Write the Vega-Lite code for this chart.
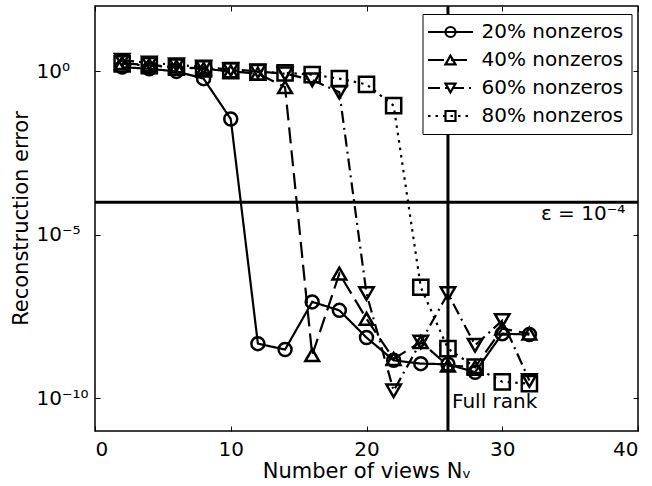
{
  "$schema": "https://vega.github.io/schema/vega-lite/v6.json",
  "autosize": {"type": "none"},
  "padding": {"left": 95, "top": 6, "right": 14, "bottom": 55},
  "width": 543,
  "height": 425,
  "config": {
    "font": "DejaVu Sans",
    "view": {"stroke": "black", "strokeWidth": 1.5},
    "axis": {"labelFont": "DejaVu Sans", "titleFont": "DejaVu Sans", "labelColor": "black", "titleColor": "black", "labelFontSize": 20, "titleFontSize": 21, "titleFontWeight": "normal", "grid": false, "domain": false, "tickColor": "black", "tickWidth": 1},
    "legend": {"labelFont": "DejaVu Sans", "labelFontSize": 20, "labelColor": "black"}
  },
  "datasets": {
    "errors": [
      {"views": 2, "series": "20% nonzeros", "err": 1.35},
      {"views": 4, "series": "20% nonzeros", "err": 1.2},
      {"views": 6, "series": "20% nonzeros", "err": 1.0},
      {"views": 8, "series": "20% nonzeros", "err": 0.6},
      {"views": 10, "series": "20% nonzeros", "err": 0.035},
      {"views": 12, "series": "20% nonzeros", "err": 4.7e-9},
      {"views": 14, "series": "20% nonzeros", "err": 3.1e-9},
      {"views": 16, "series": "20% nonzeros", "err": 8.9e-8},
      {"views": 18, "series": "20% nonzeros", "err": 4.9e-8},
      {"views": 20, "series": "20% nonzeros", "err": 7.2e-9},
      {"views": 22, "series": "20% nonzeros", "err": 1.45e-9},
      {"views": 24, "series": "20% nonzeros", "err": 1.15e-9},
      {"views": 26, "series": "20% nonzeros", "err": 1.1e-9},
      {"views": 28, "series": "20% nonzeros", "err": 6.3e-10},
      {"views": 30, "series": "20% nonzeros", "err": 9.5e-9},
      {"views": 32, "series": "20% nonzeros", "err": 8.9e-9},
      {"views": 2, "series": "40% nonzeros", "err": 1.8},
      {"views": 4, "series": "40% nonzeros", "err": 1.55},
      {"views": 6, "series": "40% nonzeros", "err": 1.4},
      {"views": 8, "series": "40% nonzeros", "err": 1.2},
      {"views": 10, "series": "40% nonzeros", "err": 1.0},
      {"views": 12, "series": "40% nonzeros", "err": 0.85},
      {"views": 14, "series": "40% nonzeros", "err": 0.33},
      {"views": 16, "series": "40% nonzeros", "err": 2.1e-9},
      {"views": 18, "series": "40% nonzeros", "err": 6.5e-7},
      {"views": 20, "series": "40% nonzeros", "err": 2.7e-8},
      {"views": 22, "series": "40% nonzeros", "err": 1.6e-9},
      {"views": 24, "series": "40% nonzeros", "err": 5.3e-9},
      {"views": 26, "series": "40% nonzeros", "err": 1.0e-9},
      {"views": 28, "series": "40% nonzeros", "err": 9e-10},
      {"views": 30, "series": "40% nonzeros", "err": 1.35e-8},
      {"views": 32, "series": "40% nonzeros", "err": 9.5e-9},
      {"views": 2, "series": "60% nonzeros", "err": 2.2},
      {"views": 4, "series": "60% nonzeros", "err": 1.8},
      {"views": 6, "series": "60% nonzeros", "err": 1.6},
      {"views": 8, "series": "60% nonzeros", "err": 1.35},
      {"views": 10, "series": "60% nonzeros", "err": 1.15},
      {"views": 12, "series": "60% nonzeros", "err": 1.0},
      {"views": 14, "series": "60% nonzeros", "err": 0.85},
      {"views": 16, "series": "60% nonzeros", "err": 0.55},
      {"views": 18, "series": "60% nonzeros", "err": 0.23},
      {"views": 20, "series": "60% nonzeros", "err": 1.6e-7},
      {"views": 22, "series": "60% nonzeros", "err": 1.7e-10},
      {"views": 24, "series": "60% nonzeros", "err": 5.3e-9},
      {"views": 26, "series": "60% nonzeros", "err": 1.6e-7},
      {"views": 28, "series": "60% nonzeros", "err": 4.2e-9},
      {"views": 30, "series": "60% nonzeros", "err": 2.4e-8},
      {"views": 32, "series": "60% nonzeros", "err": 3.5e-10},
      {"views": 2, "series": "80% nonzeros", "err": 1.7},
      {"views": 4, "series": "80% nonzeros", "err": 1.5},
      {"views": 6, "series": "80% nonzeros", "err": 1.35},
      {"views": 8, "series": "80% nonzeros", "err": 1.2},
      {"views": 10, "series": "80% nonzeros", "err": 1.05},
      {"views": 12, "series": "80% nonzeros", "err": 0.95},
      {"views": 14, "series": "80% nonzeros", "err": 0.9},
      {"views": 16, "series": "80% nonzeros", "err": 0.8},
      {"views": 18, "series": "80% nonzeros", "err": 0.6},
      {"views": 20, "series": "80% nonzeros", "err": 0.4},
      {"views": 22, "series": "80% nonzeros", "err": 0.09},
      {"views": 24, "series": "80% nonzeros", "err": 2.5e-7},
      {"views": 26, "series": "80% nonzeros", "err": 3.3e-9},
      {"views": 28, "series": "80% nonzeros", "err": 9e-10},
      {"views": 30, "series": "80% nonzeros", "err": 3.2e-10},
      {"views": 32, "series": "80% nonzeros", "err": 2.8e-10}
    ],
    "threshold": [{"eps": 0.0001}],
    "rank": [{"rank": 26}],
    "notes": [
      {"label": "ε = 10⁻⁴", "nx": 39.06, "ny": 2.8e-5, "kind": "eps"},
      {"label": "Full rank", "nx": 26.3, "ny": 4.9e-11, "kind": "rank"}
    ]
  },
  "resolve": {"axis": {"x": "independent", "y": "independent"}},
  "layer": [
    {
      "data": {"name": "errors"},
      "mark": {"type": "line", "color": "black", "strokeWidth": 2.2},
      "encoding": {
        "x": {"field": "views", "type": "quantitative", "scale": {"domain": [0, 40], "nice": false},
          "axis": {"values": [0, 10, 20, 30, 40], "tickSize": -5, "labelPadding": 13, "title": "Number of views Nᵥ", "titleY": 46, "titleBaseline": "alphabetic"}},
        "y": {"field": "err", "type": "quantitative", "scale": {"type": "log", "domain": [1e-11, 100], "nice": false},
          "axis": {"values": [1e-10, 1e-5, 1], "tickSize": -5, "labelAlign": "left", "labelPadding": 64, "labelBaseline": "middle",
            "labelExpr": "datum.value == 1 ? '10⁰' : datum.value == 1e-5 ? '10⁻⁵' : datum.value == 1e-10 ? '10⁻¹⁰' : ''",
            "title": "Reconstruction error", "titleX": -68, "titleY": 212, "titleBaseline": "alphabetic", "titleAngle": -90}},
        "detail": {"field": "series", "type": "nominal"},
        "strokeDash": {"field": "series", "type": "nominal",
          "scale": {"range": [[1, 0], [16, 7], [12, 5, 2, 5], [2.5, 5]]},
          "legend": {"title": null, "orient": "none", "legendX": 327.5, "legendY": 8, "symbolType": "M-4.5,0H4.5", "symbolSize": 100, "symbolOffset": 10, "symbolStrokeWidth": 2.2, "symbolStrokeColor": "black", "rowPadding": 8, "padding": 8, "fillColor": "white", "strokeColor": "black", "labelOffset": 21}}
      }
    },
    {
      "data": {"name": "errors"},
      "mark": {"type": "point", "filled": false, "stroke": "black", "strokeWidth": 2.5, "opacity": 1},
      "encoding": {
        "x": {"field": "views", "type": "quantitative", "axis": null},
        "y": {"field": "err", "type": "quantitative", "axis": null},
        "shape": {"field": "series", "type": "nominal",
          "scale": {"domain": ["20% nonzeros", "40% nonzeros", "60% nonzeros", "80% nonzeros"], "range": ["circle", "triangle-up", "triangle-down", "square"]},
          "legend": {"title": null, "orient": "none", "legendX": 327.5, "legendY": 8, "symbolSize": 100, "symbolOffset": 10, "symbolStrokeWidth": 2.2, "symbolStrokeColor": "black", "symbolFillColor": "transparent", "rowPadding": 8, "padding": 8, "labelOpacity": 0, "labelOffset": 21}},
        "size": {"field": "series", "type": "ordinal", "scale": {"range": [169, 230, 230, 80]}, "legend": null}
      }
    },
    {
      "data": {"name": "threshold"},
      "mark": {"type": "rule", "color": "black", "strokeWidth": 3},
      "encoding": {
        "y": {"field": "eps", "type": "quantitative", "axis": {"orient": "right", "values": [1e-10, 1e-5, 1], "tickSize": -5, "labels": false, "title": null}}
      }
    },
    {
      "data": {"name": "rank"},
      "mark": {"type": "rule", "color": "black", "strokeWidth": 3},
      "encoding": {
        "x": {"field": "rank", "type": "quantitative", "axis": {"orient": "top", "values": [0, 10, 20, 30, 40], "tickSize": -5, "labels": false, "title": null}}
      }
    },
    {
      "data": {"name": "notes"},
      "transform": [{"filter": "datum.kind == 'eps'"}],
      "mark": {"type": "text", "align": "right", "baseline": "alphabetic", "fontSize": 20, "font": "DejaVu Sans", "color": "black"},
      "encoding": {
        "x": {"field": "nx", "type": "quantitative", "axis": null},
        "y": {"field": "ny", "type": "quantitative", "axis": null},
        "text": {"field": "label"}
      }
    },
    {
      "data": {"name": "notes"},
      "transform": [{"filter": "datum.kind == 'rank'"}],
      "mark": {"type": "text", "align": "left", "baseline": "alphabetic", "fontSize": 20, "font": "DejaVu Sans", "color": "black"},
      "encoding": {
        "x": {"field": "nx", "type": "quantitative", "axis": null},
        "y": {"field": "ny", "type": "quantitative", "axis": null},
        "text": {"field": "label"}
      }
    }
  ]
}
